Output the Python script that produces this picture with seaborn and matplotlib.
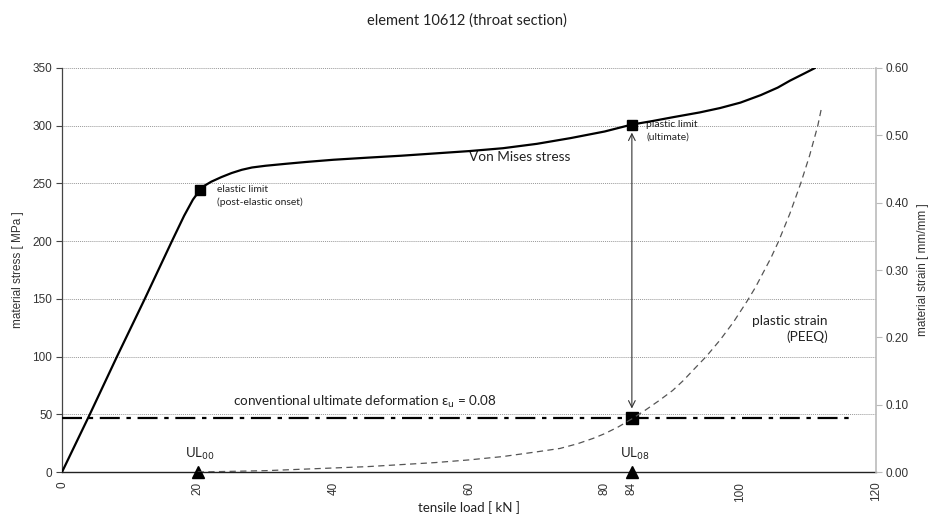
import matplotlib
matplotlib.use("Agg")
import matplotlib.pyplot as plt
import seaborn as sns
import pandas as pd

# ---- data ----
stress_load = [0, 4.1, 8.1, 12.2, 16.2, 18.0, 19.3, 20.3, 21, 22, 23.5, 25, 26.5, 28, 30, 33, 36, 40, 45, 50, 55,
               60, 65, 70, 75, 80, 84, 87, 90, 94, 97, 100, 103, 105.5, 107.3, 109.5, 111]
stress_mpa = [0, 50, 100, 150, 200, 222, 236, 244, 248, 251.5, 255.5, 259, 261.8, 263.8, 265.3, 267, 268.6, 270.5,
              272.3, 274, 276, 278, 280.5, 284.3, 289.3, 295, 301, 304, 307.3, 311.5, 315.3, 320, 326.5, 333,
              339, 345.5, 350]

strain_load = [20, 25, 30, 35, 40, 45, 50, 55, 60, 65, 70, 73.4, 76, 78.3, 80, 82, 84, 86, 88, 90, 91.6,
               93, 95, 97, 99, 101, 102.2, 103.3, 104.5, 105.6, 107.3, 108.9, 110.2, 111.4, 112]
strain_val = [0, 0.001, 0.002, 0.004, 0.006, 0.008, 0.011, 0.014, 0.018, 0.023, 0.030, 0.035, 0.042, 0.050,
              0.057, 0.067, 0.079, 0.092, 0.106, 0.121, 0.136, 0.151, 0.172, 0.196, 0.223, 0.254, 0.274,
              0.295, 0.318, 0.342, 0.384, 0.429, 0.47, 0.514, 0.543]

eps_u = 0.08
eps_u_stress = 47
limit_x = [20.3, 84]
limit_y = [244, 301]
ul_x = [20, 84]
ul_labels = ["UL$_{00}$", "UL$_{08}$"]
x_ticks = [0, 20, 40, 60, 80, 84, 100, 120]
y_ticks = [0, 50, 100, 150, 200, 250, 300, 350]
y2_ticks = [0.0, 0.1, 0.2, 0.3, 0.4, 0.5, 0.6]

sns.set_style("white")
plt.rcParams['font.family'] = ['Liberation Sans', 'DejaVu Sans']
cal = ['Lato', 'DejaVu Sans']

fig = plt.figure(figsize=(9.34, 5.17), dpi=100)
ax = fig.add_axes([0.0664, 0.087, 0.8716, 0.7815])

df_s = pd.DataFrame({"load": stress_load, "stress": stress_mpa})
sns.lineplot(data=df_s, x="load", y="stress", ax=ax, color="black", lw=1.6, zorder=5)

ax.set_xlim(0, 120)
ax.set_ylim(0, 350)
ax.set_xticks(x_ticks)
ax.set_xticklabels([str(t) for t in x_ticks], rotation=90, fontsize=8.5, color="#333333")
ax.set_yticks(y_ticks)
ax.set_yticklabels([str(t) for t in y_ticks], fontsize=8.5, color="#333333")
ax.tick_params(axis='both', direction='out', length=4, width=0.8, color="#444444", pad=3)
ax.yaxis.grid(True, color="#999999", ls=(0, (1, 1)), lw=0.7)
ax.xaxis.grid(False)
ax.set_axisbelow(True)
for s in ["top", "right"]:
    ax.spines[s].set_visible(False)
ax.spines["left"].set_color("#444444")
ax.spines["bottom"].set_color("#222222")
ax.spines["left"].set_linewidth(0.9)
ax.spines["bottom"].set_linewidth(1.0)
ax.set_xlabel("tensile load [ kN ]", fontsize=9.5, family=cal, color="#222222")
ax.xaxis.set_label_coords(0.5, -0.072)
ax.set_ylabel("material stress [ MPa ]", fontsize=8.5, color="#333333", labelpad=6)

# conventional ultimate deformation line
ax.plot([0, 116], [eps_u_stress, eps_u_stress], color="black", lw=1.6,
        ls=(0, (9, 3, 2, 3)), zorder=4)

# limit markers
ax.plot(limit_x, limit_y, ls="none", marker="s", ms=7, color="black", zorder=6)
ax.plot([84], [eps_u_stress], ls="none", marker="s", ms=8, color="black", zorder=6)
ax.plot(ul_x, [0, 0], ls="none", marker="^", ms=8, color="black", zorder=7, clip_on=False)

# arrow
ax.annotate("", xy=(84, 294), xytext=(84, 55),
            arrowprops=dict(arrowstyle="<->", color="#333333", lw=0.8,
                            mutation_scale=12, shrinkA=0, shrinkB=0))

# texts
ax.text(22.8, 239.5, "elastic limit\n(post-elastic onset)", fontsize=7.5, family=cal,
        color="#222222", va="center", ha="left", linespacing=1.45)
ax.text(86.1, 295.5, "plastic limit\n(ultimate)", fontsize=7.5, family=cal,
        color="#222222", va="center", ha="left", linespacing=1.45)
ax.text(67.5, 273, "Von Mises stress", fontsize=9.8, family=cal, color="#222222",
        ha="center", va="center")
ax.text(112.9, 124, "plastic strain\n(PEEQ)", fontsize=9.8, family=cal, color="#222222",
        ha="right", va="center", multialignment="right", linespacing=1.3)
ax.text(44.7, 60.5, "conventional ultimate deformation ε$_{\\rm u}$ = 0.08", fontsize=9.7,
        family=cal, color="#222222", ha="center", va="center")
for xx, lab in zip(ul_x, ul_labels):
    ax.text(xx + 0.4, 15.5, lab, fontsize=9.5, family=cal, color="#222222",
            ha="center", va="center")

# right axis
ax2 = ax.twinx()
df_e = pd.DataFrame({"load": strain_load, "strain": strain_val})
sns.lineplot(data=df_e, x="load", y="strain", ax=ax2, color="#555555", lw=0.9,
             ls=(0, (5, 3.5)))
ax2.set_ylim(0, 0.6)
ax2.set_xlim(0, 120)
ax2.set_yticks(y2_ticks)
ax2.set_yticklabels([f"{t:.2f}" for t in y2_ticks], fontsize=8.5, color="#333333")
ax2.tick_params(axis='y', direction='out', length=4, width=0.8, color="#bbbbbb", pad=3)
ax2.grid(False)
for s in ["top", "left", "bottom"]:
    ax2.spines[s].set_visible(False)
ax2.spines["right"].set_color("#bbbbbb")
ax2.spines["right"].set_linewidth(1.2)
ax2.set_ylabel("material strain [ mm/mm ]", fontsize=8.5, color="#333333", labelpad=6)
ax2.set_xlabel("")

fig.suptitle("element 10612 (throat section)", fontsize=10.5, family=cal,
             color="#222222", x=0.5, y=0.975)

fig.savefig("out.png", dpi=100)
